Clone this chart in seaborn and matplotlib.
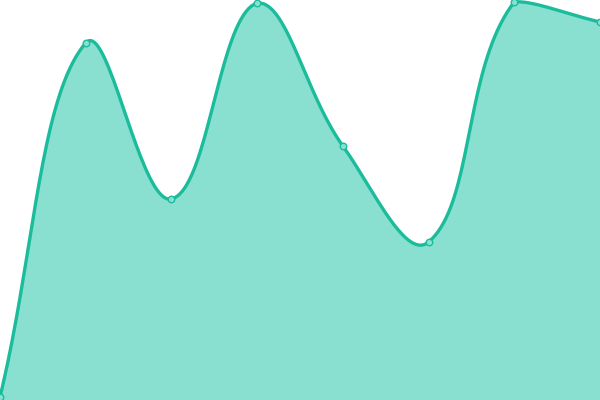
import numpy as np
import pandas as pd
import matplotlib
matplotlib.use('Agg')
import matplotlib.pyplot as plt
import seaborn as sns

# values (height in pixels above the bottom edge)
positions = [0, 1, 2, 3, 4, 5, 6, 7]
values = [3, 357, 201, 397, 254, 158, 398, 378]

LINE = '#1abc9c'
FILL = '#8ae0d0'
W, H = 600, 400


def spline_curve(xs, ys, tension=0.4, steps=40):
    '''cubic bezier through the points, control points like a tension spline'''
    pts = np.column_stack([xs, ys]).astype(float)
    n = len(pts)
    ctrl_prev, ctrl_next = [], []
    for i in range(n):
        prev = pts[max(i - 1, 0)]
        cur = pts[i]
        nxt = pts[min(i + 1, n - 1)]
        d01 = np.hypot(*(cur - prev))
        d12 = np.hypot(*(nxt - cur))
        tot = d01 + d12
        s01 = d01 / tot if tot else 0
        s12 = d12 / tot if tot else 0
        fa, fb = tension * s01, tension * s12
        cp = cur - fa * (nxt - prev)
        cn = cur + fb * (nxt - prev)
        cp = np.clip(cp, [0, 0], [W, H])
        cn = np.clip(cn, [0, 0], [W, H])
        ctrl_prev.append(cp)
        ctrl_next.append(cn)
    out = []
    t = np.linspace(0, 1, steps)[:, None]
    for i in range(n - 1):
        p0, p1, p2, p3 = pts[i], ctrl_next[i], ctrl_prev[i + 1], pts[i + 1]
        seg = ((1 - t) ** 3) * p0 + 3 * ((1 - t) ** 2) * t * p1 \
            + 3 * (1 - t) * t ** 2 * p2 + t ** 3 * p3
        out.append(seg if i == 0 else seg[1:])
    return np.vstack(out)


sns.set_style('white')
fig = plt.figure(figsize=(6, 4), dpi=100)
ax = fig.add_axes([0, 0, 1, 1])

step = W / (len(positions) - 1)
xs = np.array(positions) * step
ys = np.array(values, dtype=float)
curve = spline_curve(xs, ys)
df = pd.DataFrame({'x': curve[:, 0], 'y': curve[:, 1]})

ax.fill_between(df['x'], 0, df['y'], color=FILL, linewidth=0)
sns.lineplot(data=df, x='x', y='y', sort=False, color=LINE, linewidth=2.4, ax=ax)
sns.scatterplot(x=xs, y=ys, s=22, color=FILL, edgecolor=LINE, linewidth=1,
                ax=ax, zorder=5, clip_on=False)

ax.set_xlim(0, W)
ax.set_ylim(0, H)
ax.axis('off')
fig.savefig('out.png', dpi=100)
